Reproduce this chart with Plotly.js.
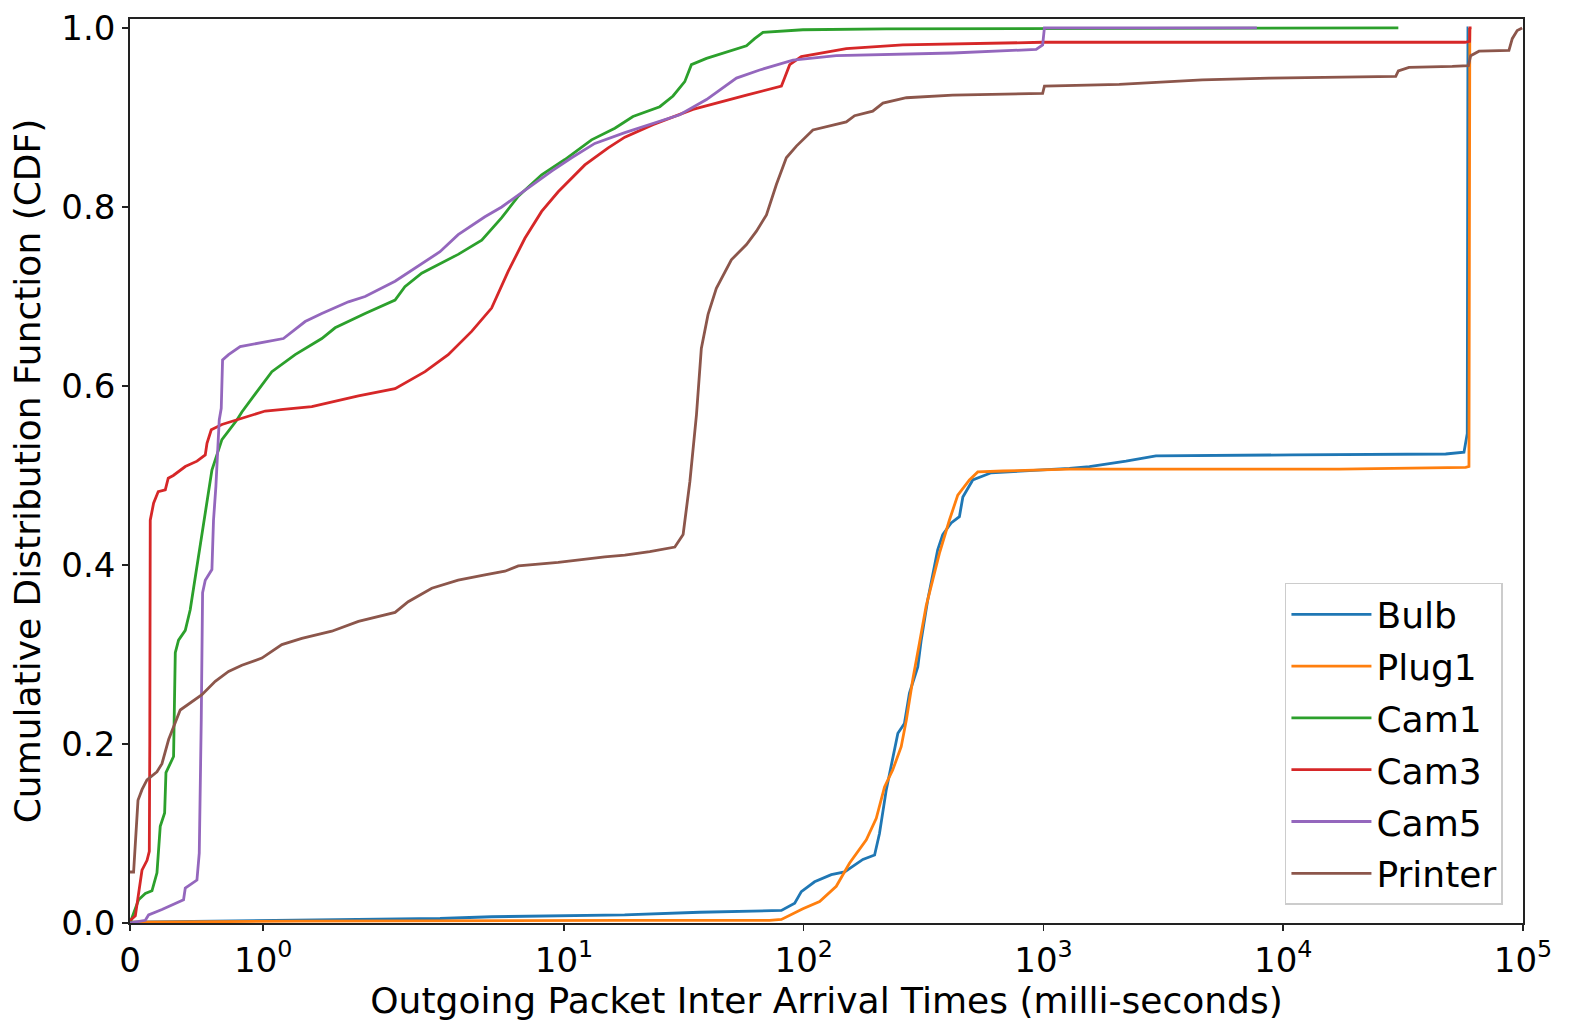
<!DOCTYPE html>
<html>
<head>
<meta charset="utf-8">
<script src="https://cdn.plot.ly/plotly-3.0.1.min.js"></script>
<style>
  body { margin: 0; background: #fff; }
  #cdf { width: 1570px; height: 1033px; }
</style>
</head>
<body>
<div id="cdf"></div>
<script>
/* inter arrival times (ms) and CDF values */
var bulbX = [0, 1.28, 3.04, 4.99, 17.9, 36.8, 72.1, 80.7, 91.7, 97.7, 111, 130.3, 148.1, 176.5, 197.5, 207, 221, 235, 247, 263, 276, 299, 309, 329, 345, 362, 380, 412, 446, 461, 507, 605, 1282, 1554, 2209, 2945, 10900, 47600, 56740, 58550, 58940, 59100];
var bulbY = [0.001, 0.003, 0.005, 0.007, 0.009, 0.012, 0.014, 0.014, 0.022, 0.035, 0.046, 0.054, 0.057, 0.071, 0.076, 0.10, 0.149, 0.182, 0.212, 0.223, 0.257, 0.286, 0.316, 0.361, 0.387, 0.417, 0.434, 0.447, 0.454, 0.476, 0.495, 0.503, 0.508, 0.51, 0.516, 0.522, 0.523, 0.524, 0.526, 0.547, 1.0, 1.0];

var plugX = [0, 1.28, 17.9, 72, 80.7, 99.2, 116.5, 136.7, 155.4, 182.4, 200.7, 217.3, 235, 255, 268, 285, 304, 324, 345, 368, 405, 439, 491, 532, 676, 1282, 17100, 57660, 59510, 59600, 60000];
var plugY = [0.001, 0.002, 0.003, 0.003, 0.004, 0.016, 0.024, 0.041, 0.067, 0.093, 0.117, 0.152, 0.171, 0.197, 0.227, 0.272, 0.313, 0.354, 0.383, 0.413, 0.45, 0.478, 0.495, 0.504, 0.505, 0.507, 0.507, 0.509, 0.51, 1.0, 1.0];

var cam1X = [0, 0.0645, 0.115, 0.165, 0.2025, 0.227, 0.26, 0.27, 0.327, 0.34, 0.3645, 0.415, 0.452, 0.54, 0.615, 0.69, 0.8025, 0.84, 1.065, 1.24, 1.44, 1.54, 1.765, 1.99, 2.17, 2.55, 3.62, 4.54, 5.50, 6.45, 8.07, 10.09, 13.03, 16.3, 19.4, 25.1, 28.5, 31.9, 34.0, 39.3, 47.6, 57.7, 62.4, 67.6, 99.2, 221, 30200];
var cam1Y = [0.0, 0.026, 0.033, 0.036, 0.056, 0.108, 0.123, 0.168, 0.186, 0.302, 0.316, 0.327, 0.35, 0.432, 0.506, 0.54, 0.562, 0.571, 0.616, 0.635, 0.653, 0.665, 0.681, 0.696, 0.711, 0.726, 0.747, 0.763, 0.788, 0.812, 0.836, 0.853, 0.875, 0.888, 0.901, 0.912, 0.924, 0.94, 0.959, 0.966, 0.973, 0.98, 0.988, 0.995, 0.998, 0.999, 1.0];

var cam3X = [0, 0.01, 0.04, 0.09, 0.128, 0.145, 0.1485, 0.152, 0.177, 0.212, 0.265, 0.287, 0.325, 0.415, 0.503, 0.565, 0.578, 0.61, 0.69, 0.80, 1.015, 1.365, 1.715, 1.99, 2.633, 3.29, 4.12, 4.99, 5.85, 6.87, 8.07, 9.46, 12.22, 15.29, 17.94, 23.5, 34.5, 57.7, 80.7, 83.2, 87.4, 97.7, 150.5, 259, 992, 57300, 59900, 60000, 61000];
var cam3Y = [0.003, 0.004, 0.008, 0.059, 0.07, 0.08, 0.2, 0.45, 0.469, 0.482, 0.484, 0.497, 0.50, 0.51, 0.516, 0.523, 0.536, 0.551, 0.557, 0.562, 0.572, 0.577, 0.589, 0.597, 0.616, 0.635, 0.661, 0.687, 0.728, 0.765, 0.795, 0.817, 0.847, 0.866, 0.878, 0.892, 0.909, 0.925, 0.935, 0.944, 0.959, 0.968, 0.977, 0.981, 0.984, 0.984, 0.985, 1.0, 1.0];

var cam5X = [0, 0.115, 0.1395, 0.24, 0.402, 0.415, 0.5025, 0.52, 0.535, 0.545, 0.565, 0.615, 0.627, 0.645, 0.67, 0.685, 0.695, 0.74, 0.827, 0.965, 1.152, 1.315, 1.44, 1.64, 1.765, 1.99, 2.39, 3.04, 3.62, 4.68, 5.50, 6.66, 8.88, 10.76, 13.45, 17.94, 30.4, 39.3, 52.4, 65.5, 90.2, 136.7, 418, 932, 992, 1009, 7760];
var cam5Y = [0.0, 0.003, 0.009, 0.015, 0.026, 0.039, 0.048, 0.078, 0.227, 0.369, 0.383, 0.395, 0.45, 0.488, 0.562, 0.575, 0.629, 0.635, 0.644, 0.648, 0.653, 0.672, 0.681, 0.694, 0.70, 0.717, 0.732, 0.75, 0.769, 0.789, 0.80, 0.816, 0.84, 0.855, 0.871, 0.883, 0.903, 0.92, 0.944, 0.953, 0.964, 0.969, 0.972, 0.976, 0.981, 1.0, 1.0];

var printerX = [0, 0.027, 0.06, 0.09, 0.1275, 0.2025, 0.24, 0.29, 0.377, 0.465, 0.54, 0.64, 0.74, 0.84, 0.99, 1.14, 1.29, 1.515, 1.715, 1.99, 2.24, 2.81, 3.62, 4.68, 5.67, 6.45, 9.46, 14.8, 17.94, 22.8, 29.0, 31.4, 33.5, 35.7, 37.4, 39.9, 43.2, 49.9, 57.7, 63.5, 69.9, 76.9, 84.6, 93.2, 109.2, 150.5, 163, 194, 214, 268, 418, 992, 1009, 2071, 4594, 8737, 29460, 30200, 33460, 50700, 59200, 60500, 65530, 87370, 90200, 94600, 99200];
var printerY = [0.057, 0.057, 0.137, 0.149, 0.16, 0.169, 0.178, 0.205, 0.238, 0.247, 0.255, 0.27, 0.281, 0.288, 0.296, 0.311, 0.318, 0.326, 0.337, 0.347, 0.359, 0.374, 0.383, 0.389, 0.393, 0.399, 0.403, 0.409, 0.411, 0.415, 0.42, 0.434, 0.493, 0.568, 0.642, 0.68, 0.709, 0.741, 0.758, 0.773, 0.791, 0.825, 0.855, 0.868, 0.886, 0.895, 0.902, 0.907, 0.916, 0.922, 0.925, 0.927, 0.935, 0.937, 0.942, 0.944, 0.946, 0.952, 0.956, 0.957, 0.958, 0.969, 0.974, 0.975, 0.988, 0.997, 1.0];

var tickValues = [0, 1, 10, 100, 1000, 10000, 100000];
var tickLabels = ['0', '10<sup>0</sup>', '10<sup>1</sup>', '10<sup>2</sup>', '10<sup>3</sup>', '10<sup>4</sup>', '10<sup>5</sup>'];

// matplotlib style symlog, linthresh 2, linscale 1
var LINTHRESH = 2;
var LINSCALE = 1 / (1 - 1 / 10);
function symlog(x) {
  if (x <= LINTHRESH) return x * LINSCALE;
  return LINTHRESH * (LINSCALE + Math.log10(x / LINTHRESH));
}

function trace(name, xs, ys, color) {
  return {
    name: name,
    x: xs.map(symlog),
    y: ys,
    type: 'scatter',
    mode: 'lines',
    legendgroup: name,
    line: {color: color, width: 2.8}
  };
}

var data = [
  trace('Bulb', bulbX, bulbY, '#1f77b4'),
  trace('Plug1', plugX, plugY, '#ff7f0e'),
  trace('Cam1', cam1X, cam1Y, '#2ca02c'),
  trace('Cam3', cam3X, cam3Y, '#d62728'),
  trace('Cam5', cam5X, cam5Y, '#9467bd'),
  trace('Printer', printerX, printerY, '#8c564b')
];

var tickFont = {family: 'DejaVu Sans', size: 34, color: '#000'};
var labelFont = {family: 'DejaVu Sans', size: 36, color: '#000'};

var layout = {
  width: 1570,
  height: 1033,
  margin: {l: 130, r: 47, t: 19, b: 110},
  paper_bgcolor: '#fff',
  plot_bgcolor: '#fff',
  font: labelFont,
  showlegend: true,
  legend: {
    x: 0.9856, xanchor: 'right',
    y: 0.02, yanchor: 'bottom',
    bgcolor: 'rgba(255,255,255,0.8)',
    bordercolor: '#cccccc',
    borderwidth: 1.5,
    font: labelFont,
    tracegroupgap: 2,
    itemwidth: 80,
    entrywidth: 250
  },
  xaxis: {
    range: [0, symlog(100000)],
    tickvals: tickValues.map(symlog),
    ticktext: tickLabels,
    ticks: 'outside', ticklen: 6, tickwidth: 1.5, tickcolor: '#222',
    showline: true, linecolor: '#222', linewidth: 1.8, mirror: true,
    showgrid: false, zeroline: false,
    tickfont: tickFont,
    title: {text: 'Outgoing Packet Inter Arrival Times (milli-seconds)', font: labelFont, standoff: 8}
  },
  yaxis: {
    range: [0, 1.01],
    tickvals: [0, 0.2, 0.4, 0.6, 0.8, 1.0],
    tickformat: '.1f',
    ticks: 'outside', ticklen: 6, tickwidth: 1.5, tickcolor: '#222',
    showline: true, linecolor: '#222', linewidth: 1.8, mirror: true,
    showgrid: false, zeroline: false,
    tickfont: tickFont,
    title: {text: 'Cumulative Distribution Function (CDF)', font: labelFont, standoff: 10}
  }
};

Plotly.newPlot('cdf', data, layout, {staticPlot: true});
</script>
</body>
</html>
